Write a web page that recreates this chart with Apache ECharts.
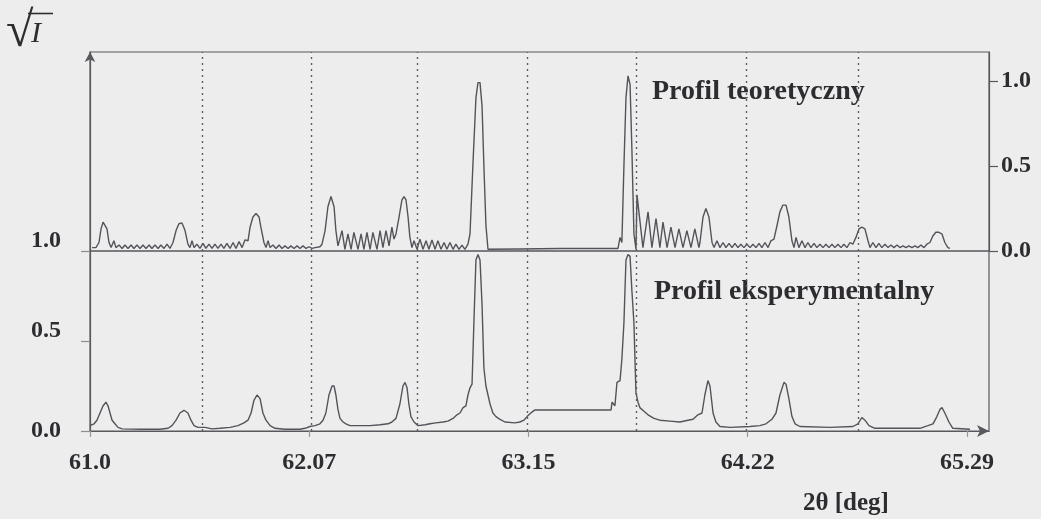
<!DOCTYPE html>
<html>
<head>
<meta charset="utf-8">
<script src="https://cdn.jsdelivr.net/npm/echarts@6.0.0/dist/echarts.min.js"></script>
<style>
  html, body { margin: 0; padding: 0; background: #ededed; }
  #chart { width: 1041px; height: 519px; }
</style>
</head>
<body>
<div id="chart"></div>
<script>
// 2θ tick positions and their printed labels
const xTickValues = [61.0, 62.0725, 63.145, 64.2175, 65.29];
const xTickLabels = ['61.0', '62.07', '63.15', '64.22', '65.29'];

// sqrt(I) tick positions and labels (both panels)
const yTickValues = [0, 0.5, 1.0];
const yTickLabels = ['0.0', '0.5', '1.0'];

// dotted reference lines across both panels (2θ, deg)
const guideAngles = [61.55, 62.08, 62.60, 63.14, 63.67, 64.21, 64.76];

// theoretical profile: [2θ, sqrt(I)]
const theoretical = [
  [61.010,0.02],[61.029,0.02],[61.044,0.05],[61.054,0.13],[61.064,0.17],[61.073,0.17],[61.083,0.13],[61.093,0.05],
  [61.103,0.02],[61.117,0.06],[61.127,0.02],[61.142,0.035],[61.157,0.015],[61.171,0.035],[61.186,0.015],[61.201,0.035],
  [61.215,0.015],[61.230,0.035],[61.245,0.015],[61.259,0.035],[61.274,0.015],[61.289,0.035],[61.303,0.015],[61.318,0.035],
  [61.333,0.015],[61.347,0.035],[61.362,0.015],[61.377,0.04],[61.391,0.015],[61.406,0.05],[61.421,0.12],[61.435,0.16],
  [61.450,0.165],[61.465,0.12],[61.479,0.04],[61.489,0.02],[61.499,0.06],[61.509,0.02],[61.523,0.04],[61.538,0.015],
  [61.553,0.045],[61.567,0.015],[61.582,0.04],[61.597,0.015],[61.611,0.04],[61.626,0.015],[61.641,0.04],[61.655,0.015],
  [61.670,0.045],[61.685,0.015],[61.700,0.05],[61.714,0.015],[61.729,0.055],[61.744,0.02],[61.758,0.065],[61.773,0.06],
  [61.783,0.14],[61.797,0.2],[61.812,0.22],[61.827,0.2],[61.836,0.14],[61.851,0.05],[61.861,0.02],[61.871,0.06],
  [61.881,0.02],[61.895,0.035],[61.910,0.015],[61.925,0.035],[61.939,0.015],[61.954,0.03],[61.969,0.015],[61.983,0.03],
  [61.998,0.015],[62.013,0.03],[62.027,0.015],[62.042,0.03],[62.057,0.015],[62.071,0.025],[62.086,0.015],[62.101,0.02],
  [62.125,0.025],[62.135,0.04],[62.150,0.12],[62.164,0.26],[62.179,0.32],[62.194,0.26],[62.203,0.12],[62.213,0.03],
  [62.233,0.12],[62.247,0.01],[62.262,0.10],[62.277,0.01],[62.291,0.11],[62.311,0.01],[62.326,0.10],[62.340,0.01],
  [62.355,0.11],[62.370,0.01],[62.384,0.11],[62.404,0.01],[62.419,0.12],[62.433,0.02],[62.448,0.12],[62.463,0.03],
  [62.477,0.14],[62.487,0.07],[62.497,0.10],[62.512,0.20],[62.526,0.30],[62.536,0.32],[62.546,0.30],[62.556,0.20],
  [62.565,0.08],[62.575,0.02],[62.585,0.06],[62.600,0.01],[62.614,0.07],[62.629,0.01],[62.644,0.06],[62.658,0.01],
  [62.673,0.065],[62.688,0.01],[62.702,0.06],[62.717,0.01],[62.732,0.05],[62.746,0.01],[62.761,0.05],[62.776,0.01],
  [62.790,0.04],[62.805,0.01],[62.820,0.035],[62.834,0.01],[62.849,0.04],[62.859,0.10],[62.873,0.50],[62.888,0.90],
  [62.898,0.99],[62.908,0.99],[62.918,0.85],[62.927,0.50],[62.937,0.15],[62.947,0.01],[63.103,0.012],[63.299,0.015],
  [63.583,0.015],[63.593,0.08],[63.602,0.05],[63.612,0.50],[63.622,0.90],[63.632,1.03],[63.642,0.98],[63.651,0.60],
  [63.661,0.10],[63.671,0.01],[63.676,0.33],[63.681,0.33],[63.705,0.02],[63.730,0.23],[63.749,0.02],[63.769,0.19],
  [63.788,0.02],[63.803,0.17],[63.823,0.02],[63.842,0.14],[63.862,0.02],[63.881,0.13],[63.901,0.02],[63.920,0.12],
  [63.940,0.02],[63.959,0.13],[63.979,0.02],[63.984,0.05],[63.999,0.20],[64.013,0.25],[64.028,0.20],[64.043,0.05],
  [64.053,0.02],[64.067,0.06],[64.082,0.02],[64.097,0.05],[64.111,0.02],[64.126,0.045],[64.141,0.02],[64.155,0.045],
  [64.170,0.02],[64.184,0.04],[64.199,0.02],[64.214,0.04],[64.229,0.02],[64.243,0.04],[64.258,0.02],[64.273,0.045],
  [64.287,0.02],[64.302,0.05],[64.317,0.02],[64.331,0.06],[64.346,0.07],[64.361,0.15],[64.375,0.23],[64.390,0.27],
  [64.405,0.27],[64.419,0.20],[64.434,0.06],[64.444,0.02],[64.454,0.08],[64.468,0.02],[64.483,0.06],[64.498,0.02],
  [64.512,0.05],[64.527,0.02],[64.542,0.045],[64.556,0.02],[64.571,0.04],[64.586,0.02],[64.600,0.04],[64.615,0.02],
  [64.630,0.04],[64.644,0.02],[64.659,0.04],[64.674,0.02],[64.688,0.04],[64.703,0.02],[64.718,0.05],[64.732,0.04],
  [64.747,0.08],[64.762,0.13],[64.776,0.14],[64.791,0.13],[64.806,0.06],[64.816,0.02],[64.830,0.05],[64.845,0.02],
  [64.859,0.045],[64.874,0.02],[64.889,0.04],[64.904,0.02],[64.918,0.035],[64.933,0.02],[64.948,0.035],[64.962,0.02],
  [64.977,0.03],[64.992,0.02],[65.006,0.03],[65.021,0.02],[65.036,0.03],[65.050,0.02],[65.065,0.035],[65.080,0.02],
  [65.094,0.04],[65.109,0.05],[65.124,0.09],[65.138,0.11],[65.153,0.11],[65.168,0.10],[65.182,0.05],[65.197,0.02],
  [65.207,0.015]
];

// experimental profile: [2θ, sqrt(I)]
const experimental = [
  [61.000,0.03],[61.020,0.04],[61.034,0.06],[61.049,0.10],[61.064,0.14],[61.078,0.16],[61.088,0.14],[61.098,0.10],
  [61.108,0.06],[61.122,0.04],[61.137,0.02],[61.157,0.012],[61.245,0.01],[61.342,0.01],[61.382,0.015],[61.401,0.03],
  [61.421,0.06],[61.440,0.10],[61.460,0.115],[61.479,0.10],[61.494,0.06],[61.509,0.03],[61.528,0.02],[61.563,0.02],
  [61.597,0.012],[61.636,0.015],[61.685,0.02],[61.724,0.03],[61.753,0.045],[61.773,0.06],[61.788,0.10],[61.802,0.17],
  [61.817,0.20],[61.832,0.18],[61.846,0.10],[61.861,0.06],[61.881,0.03],[61.905,0.015],[61.954,0.01],[62.027,0.01],
  [62.052,0.015],[62.076,0.025],[62.101,0.03],[62.125,0.04],[62.140,0.06],[62.154,0.10],[62.169,0.20],[62.184,0.25],
  [62.194,0.25],[62.203,0.20],[62.213,0.12],[62.223,0.07],[62.238,0.05],[62.252,0.04],[62.272,0.03],[62.370,0.03],
  [62.419,0.035],[62.458,0.04],[62.477,0.05],[62.497,0.07],[62.516,0.15],[62.531,0.25],[62.541,0.27],[62.551,0.24],
  [62.560,0.15],[62.570,0.08],[62.585,0.05],[62.605,0.03],[62.614,0.025],[62.639,0.035],[62.663,0.04],[62.692,0.045],
  [62.727,0.05],[62.751,0.055],[62.776,0.07],[62.795,0.09],[62.810,0.10],[62.825,0.13],[62.839,0.14],[62.849,0.20],
  [62.859,0.24],[62.869,0.26],[62.878,0.60],[62.888,0.95],[62.898,0.98],[62.908,0.95],[62.918,0.70],[62.927,0.35],
  [62.937,0.25],[62.947,0.20],[62.957,0.15],[62.971,0.10],[62.986,0.08],[63.006,0.065],[63.030,0.05],[63.079,0.045],
  [63.103,0.05],[63.123,0.06],[63.138,0.08],[63.162,0.105],[63.177,0.117],[63.549,0.117],[63.554,0.16],[63.568,0.14],
  [63.578,0.27],[63.593,0.28],[63.602,0.40],[63.612,0.60],[63.622,0.95],[63.632,0.98],[63.642,0.97],[63.651,0.78],
  [63.661,0.60],[63.666,0.40],[63.671,0.21],[63.681,0.16],[63.690,0.13],[63.710,0.11],[63.730,0.09],[63.759,0.07],
  [63.788,0.06],[63.837,0.055],[63.886,0.05],[63.925,0.06],[63.950,0.065],[63.974,0.09],[63.994,0.10],[64.008,0.20],
  [64.023,0.28],[64.033,0.25],[64.048,0.10],[64.062,0.05],[64.082,0.025],[64.131,0.02],[64.229,0.025],[64.277,0.03],
  [64.307,0.04],[64.336,0.065],[64.356,0.10],[64.375,0.20],[64.395,0.27],[64.405,0.26],[64.419,0.18],[64.434,0.08],
  [64.449,0.04],[64.473,0.025],[64.620,0.02],[64.732,0.025],[64.757,0.04],[64.776,0.075],[64.791,0.06],[64.811,0.03],
  [64.840,0.015],[65.060,0.015],[65.099,0.03],[65.124,0.04],[65.143,0.08],[65.158,0.12],[65.168,0.13],[65.182,0.10],
  [65.202,0.05],[65.221,0.015],[65.305,0.01]
];

const ink = '#2e2c30';
const frame = '#5a575d';
const curve = '#56525a';
const serif = "'Liberation Serif', 'Times New Roman', serif";
const xMin = 61.0;
const xMax = 65.398;

function labelFor(values, labels) {
  return function (v) {
    const i = values.findIndex(t => Math.abs(t - v) < 1e-6);
    return i < 0 ? '' : labels[i];
  };
}
const xLabel = labelFor(xTickValues, xTickLabels);
const yLabel = labelFor(yTickValues, yTickLabels);

const tickFont = { fontFamily: serif, fontWeight: 'bold', fontSize: 24, color: ink };

const guides = {
  silent: true,
  symbol: 'none',
  animation: false,
  label: { show: false },
  lineStyle: { color: '#5f5c63', type: [2, 4], width: 1.4 },
  data: guideAngles.map(a => ({ xAxis: a }))
};

const chart = echarts.init(document.getElementById('chart'), null, { renderer: 'canvas' });

chart.setOption({
  backgroundColor: '#ededed',
  animation: false,
  grid: [
    { left: 90, top: 52, width: 899, height: 199, show: true, borderColor: frame, borderWidth: 1.2, backgroundColor: 'transparent' },
    { left: 90, top: 251, width: 899, height: 180, show: true, borderColor: frame, borderWidth: 1.2, backgroundColor: 'transparent' }
  ],
  xAxis: [
    {
      type: 'value', gridIndex: 0, min: xMin, max: xMax,
      axisLine: { show: false }, axisTick: { show: false }, axisLabel: { show: false }, splitLine: { show: false }
    },
    {
      type: 'value', gridIndex: 1, min: xMin, max: xMax,
      axisLine: { show: true, symbol: ['none', 'arrow'], symbolSize: [9, 12], lineStyle: { color: frame, width: 1.2 } },
      axisTick: { show: true, customValues: xTickValues, length: 6, lineStyle: { color: '#9a979c', width: 1.2 } },
      axisLabel: Object.assign({ customValues: xTickValues, formatter: xLabel, margin: 20 }, tickFont),
      splitLine: { show: false }
    }
  ],
  yAxis: [
    {
      type: 'value', gridIndex: 0, position: 'right', min: 0, max: 1.17,
      axisLine: { show: true, lineStyle: { color: frame, width: 1.2 } },
      axisTick: { show: true, customValues: yTickValues, length: 9, lineStyle: { color: frame, width: 1.2 } },
      axisLabel: Object.assign({ customValues: yTickValues, formatter: yLabel, margin: 12 }, tickFont),
      splitLine: { show: false }
    },
    {
      type: 'value', gridIndex: 1, position: 'left', min: 0, max: 1,
      axisLine: { show: true, lineStyle: { color: frame, width: 1.2 } },
      axisTick: { show: true, customValues: yTickValues, length: 9, lineStyle: { color: '#8f8c92', width: 1.2 } },
      axisLabel: {
        customValues: yTickValues,
        margin: 29,
        formatter: v => (v === 0 ? '{base|' : '{lift|') + yLabel(v) + '}',
        rich: {
          base: Object.assign({}, tickFont),
          lift: Object.assign({ padding: [0, 0, 20, 0] }, tickFont)
        }
      },
      splitLine: { show: false }
    },
    {
      type: 'value', gridIndex: 0, position: 'left', min: 0, max: 1.17,
      axisLine: { show: true, symbol: ['none', 'arrow'], symbolSize: [8, 10], lineStyle: { color: frame, width: 1.2 } },
      axisTick: { show: false }, axisLabel: { show: false }, splitLine: { show: false }
    }
  ],
  series: [
    {
      name: 'Profil teoretyczny', type: 'line', xAxisIndex: 0, yAxisIndex: 0,
      data: theoretical, showSymbol: false, symbol: 'none',
      lineStyle: { color: curve, width: 1.4 },
      markLine: guides
    },
    {
      name: 'Profil eksperymentalny', type: 'line', xAxisIndex: 1, yAxisIndex: 1,
      data: experimental, showSymbol: false, symbol: 'none',
      lineStyle: { color: curve, width: 1.4 },
      markLine: guides
    }
  ],
  graphic: [
    { type: 'text', left: 6, top: 8, style: { text: '√', font: '50px ' + serif, fill: ink } },
    { type: 'text', left: 31, top: 19, style: { text: 'I', font: 'italic 30px ' + serif, fill: ink } },
    { type: 'line', shape: { x1: 28, y1: 13.5, x2: 53, y2: 13.5 }, style: { stroke: ink, lineWidth: 1.6 } },
    { type: 'text', left: 652, top: 78, style: { text: 'Profil teoretyczny', font: 'bold 28px ' + serif, fill: ink } },
    { type: 'text', left: 654, top: 278, style: { text: 'Profil eksperymentalny', font: 'bold 28px ' + serif, fill: ink } },
    { type: 'text', left: 803, top: 491, style: { text: '2θ [deg]', font: 'bold 25px ' + serif, fill: ink } }
  ]
});
</script>
</body>
</html>
